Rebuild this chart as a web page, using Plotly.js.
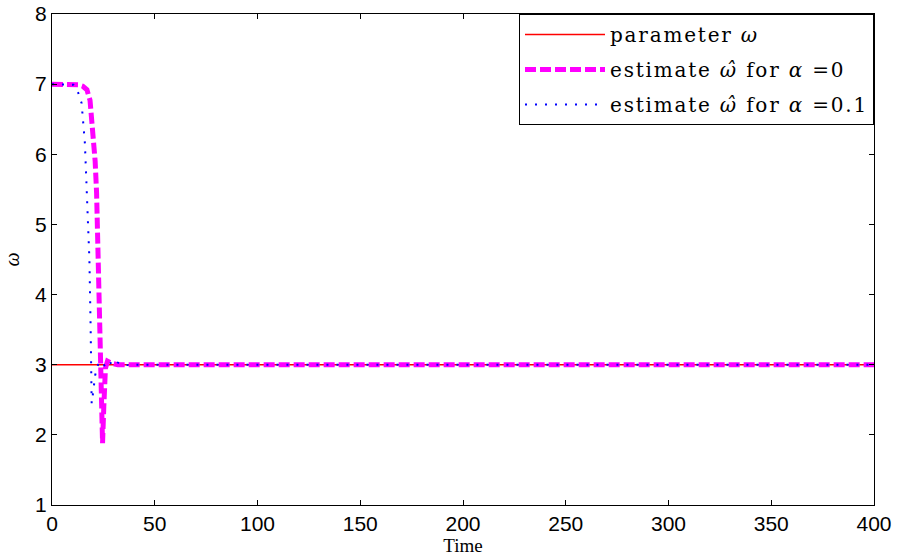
<!DOCTYPE html>
<html>
<head>
<meta charset="utf-8">
<script src="https://cdn.plot.ly/plotly-3.0.1.min.js"></script>
<style>html,body{margin:0;padding:0;background:#fff;}#chart{width:897px;height:556px;}
.legendtext{letter-spacing:1.8px;}</style>
</head>
<body>
<div id="chart"></div>
<script>
// Parameter omega (true value)
const paramTime = [0, 400];
const paramOmega = [3, 3];

// Estimate for alpha = 0
const est0Time = [0, 5, 10, 13, 15, 17, 18.5, 20, 21, 21.7, 22.5, 23, 23.7, 24.2, 24.6, 25.2, 26, 27, 29, 32, 40, 60, 100, 150, 200, 250, 300, 345, 350, 400];
const est0Omega = [7, 7, 7, 6.99, 6.97, 6.92, 6.77, 6.3, 5.9, 5.45, 4.5, 3.54, 3.07, 2.3, 1.88, 2.4, 2.95, 3.05, 3.02, 3.0, 3.0, 3.0, 3.0, 3.0, 3.0, 3.0, 3.0, 3.0, 3.0, 3.0];

// Estimate for alpha = 0.1
const est1Time = [0, 5, 7, 10.4, 12.5, 14.4, 16, 16.9, 18.2, 18.8, 19.3, 20, 21, 22.4, 24, 26, 28, 30, 32, 35, 38, 50, 100, 150, 200, 250, 300, 350, 400];
const est1Omega = [7, 7, 7, 6.99, 6.9, 6.73, 6.16, 5.45, 4.5, 3.54, 2.45, 2.6, 2.85, 3.0, 3.05, 2.97, 3.04, 2.98, 3.03, 2.99, 3.0, 3.0, 3.0, 3.0, 3.0, 3.0, 3.0, 3.0, 3.0];

const legendNames = ['parameter <i>ω</i>', 'estimate <i>ω\u0302</i> for <i>α</i> =0', 'estimate <i>ω\u0302</i> for <i>α</i> =0.1'];

const traces = [
  {x: paramTime, y: paramOmega, mode: 'lines', name: legendNames[0], legendgroup: 'a',
   line: {color: '#ff0000', width: 1.5}},
  {x: est0Time, y: est0Omega, mode: 'lines', name: legendNames[1], legendgroup: 'b',
   line: {color: '#ff00ff', width: 5, dash: '11px,4px'}},
  {x: est1Time, y: est1Omega, mode: 'lines', name: legendNames[2], legendgroup: 'c',
   line: {color: '#0000ff', width: 2, dash: '2px,8px'}}
];

const tickFont = {family: 'Liberation Sans, Arial, sans-serif', size: 21, color: '#000'};
const serif = 'DejaVu Serif, Liberation Serif, serif';

const layout = {
  width: 897, height: 556,
  margin: {l: 52, r: 23, t: 14, b: 51},
  paper_bgcolor: '#fff', plot_bgcolor: '#fff',
  showlegend: true,
  legend: {x: 1, y: 1, xanchor: 'right', yanchor: 'top',
           bordercolor: '#000', borderwidth: 1, bgcolor: '#fff',
           font: {family: serif, size: 20, color: '#000'},
           itemwidth: 80, tracegroupgap: 6},
  xaxis: {range: [0, 400], tickvals: [0, 50, 100, 150, 200, 250, 300, 350, 400],
          ticks: 'inside', ticklen: 5, tickcolor: '#000', mirror: 'allticks',
          showline: true, linecolor: '#000', linewidth: 1, showgrid: false, zeroline: false,
          tickfont: tickFont, automargin: false,
          title: {text: 'Time', font: {family: 'Liberation Serif, serif', size: 19, color: '#000'}, standoff: 4}},
  yaxis: {range: [1, 8], tickvals: [1, 2, 3, 4, 5, 6, 7, 8],
          ticks: 'inside', ticklen: 5, tickcolor: '#000', mirror: 'allticks',
          showline: true, linecolor: '#000', linewidth: 1, showgrid: false, zeroline: false,
          tickfont: tickFont, automargin: false,
          title: {text: '<i>ω</i>', font: {family: 'Liberation Serif, serif', size: 20, color: '#000'}, standoff: 10}}
};

Plotly.newPlot('chart', traces, layout, {displayModeBar: false, staticPlot: true});
</script>
</body>
</html>
